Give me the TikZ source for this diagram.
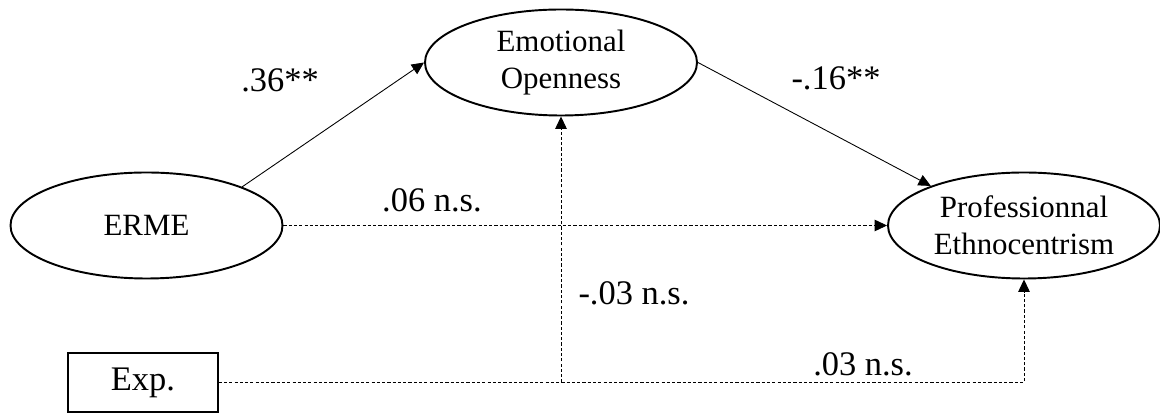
\documentclass[tikz,border=0pt]{standalone}
\usepackage{fontspec}
\setmainfont{Liberation Serif}
\usetikzlibrary{arrows.meta,shapes.geometric}

\begin{document}
\begin{tikzpicture}[
    latent/.style={draw, ellipse, line width=1.1pt, inner sep=0pt, minimum width=5.44cm, minimum height=2.12cm, align=center, font=\fontsize{17.6}{21}\selectfont},
    observed/.style={draw, rectangle, line width=0.8pt, minimum width=3cm, minimum height=1.18cm, font=\fontsize{19.6}{23}\selectfont},
    effect/.style={line width=0.5pt, -{Triangle[length=7pt,width=6.5pt]}},
    nseffect/.style={effect, dash pattern=on 1.8pt off 1.2pt},
    coef/.style={anchor=base, font=\fontsize{19.6}{23}\selectfont}]
    \useasboundingbox (0,0) rectangle (23.2,8.26); %limites de la imagen
    \node[latent] (erme) at (2.93,3.75) {ERME}; %predictor
    \node[latent] (eo) at (11.22,7.01) {Emotional\\Openness}; %mediador
    \node[latent] (pe) at (20.48,3.75) {Professionnal\\Ethnocentrism}; %resultado
    \node[observed] (exp) at (2.86,0.61) {Exp.}; %control
    \coordinate (split) at (exp.east -| eo.south); %union de las lineas
    \draw[effect] (erme.22) -- (eo.west); %a
    \draw[effect] (eo.east) -- (pe.157); %b
    \draw[nseffect] (erme.east) -- (pe.west); %c'
    \draw[nseffect] (exp.east) -| (pe.south); %Exp sobre resultado
    \draw[nseffect] (split) -- (eo.south); %Exp sobre mediador
    \node[coef] (ca) at (5.6,6.42) {.36**};
    \node[coef] (cb) at (16.72,6.46) {-.16**};
    \node[coef] (cc) at (8.64,4.02) {.06 n.s.};
    \node[coef] (cm) at (12.68,2.16) {-.03 n.s.};
    \node[coef] (cy) at (17.26,0.74) {.03 n.s.};
\end{tikzpicture}
\end{document}
